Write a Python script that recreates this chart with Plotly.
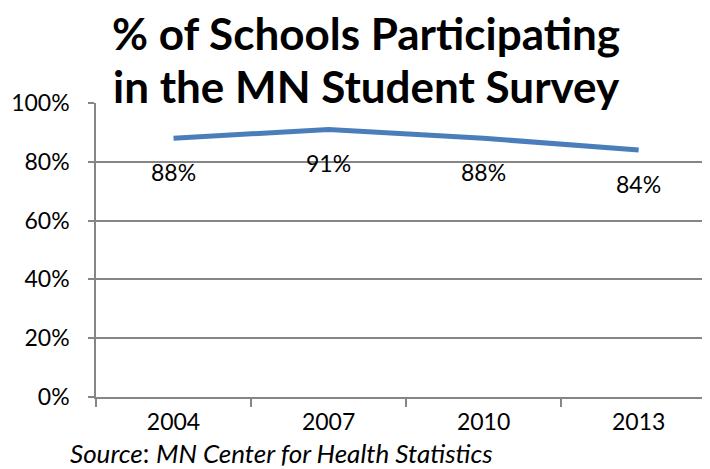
import plotly.graph_objects as go

years = ["2004", "2007", "2010", "2013"]
pct = [0.88, 0.91, 0.88, 0.84]
labels = ["88%", "91%", "88%", "84%"]
title_lines = ["% of Schools Participating", "in the MN Student Survey"]
source_text = "<i>Source</i>: <i>MN Center for Health Statistics</i>"

# page has an 8px body margin, so the figure is sized to fit the window
W, H = 702, 461
ML, MR, MT, MB = 88, 0, 95, 72
font_family = "Lato, 'Open Sans', sans-serif"
plot_w = W - ML - MR
plot_h = H - MT - MB


def py(yfig):
    return (H - MB - yfig) / plot_h


def px(xfig):
    return (xfig - ML) / plot_w


fig = go.Figure()
fig.add_trace(go.Scatter(
    x=years, y=pct, mode="lines",
    line=dict(color="#4A7EBB", width=5),
    hoverinfo="skip", showlegend=False,
))

for i, (yv, t) in enumerate(zip(pct, labels)):
    fig.add_annotation(x=i, y=yv, xref="x", yref="y", text=t, showarrow=False,
                       yshift=-34, yanchor="middle",
                       font=dict(size=23, color="#000000", family=font_family))

fig.add_annotation(x=px(358), y=py(25), xref="paper", yref="paper",
                   text="<b>" + title_lines[0] + "</b>", showarrow=False, yanchor="middle",
                   xanchor="center", font=dict(size=44, color="#000000", family=font_family))
fig.add_annotation(x=px(358), y=py(78), xref="paper", yref="paper",
                   text="<b>" + title_lines[1] + "</b>", showarrow=False, yanchor="middle",
                   xanchor="center", font=dict(size=44, color="#000000", family=font_family))

fig.add_annotation(x=px(60), y=py(445), xref="paper", yref="paper",
                   text=source_text, showarrow=False, xanchor="left", yanchor="middle",
                   font=dict(size=26, color="#000000", family=font_family))

fig.update_layout(
    width=W, height=H,
    margin=dict(l=ML, r=MR, t=MT, b=MB),
    paper_bgcolor="white", plot_bgcolor="white",
    font=dict(family=font_family, size=23, color="#000000"),
    xaxis=dict(type="category", range=[-0.5, 3.46], showgrid=False,
               showline=True, linecolor="#868686", linewidth=1.5,
               ticks="outside", tickson="boundaries", ticklen=8, tickcolor="#868686",
               tickwidth=1.5, ticklabelstandoff=4, zeroline=False),
    yaxis=dict(range=[0, 1], tickvals=[0, 0.2, 0.4, 0.6, 0.8, 1.0], tickformat=".0%",
               showgrid=True, gridcolor="#868686", gridwidth=1.5,
               showline=True, linecolor="#868686", linewidth=1.5,
               ticks="outside", ticklen=6, tickcolor="#868686", tickwidth=1.5,
               ticklabelstandoff=14, zeroline=False),
)

fig.write_html("out.html")
